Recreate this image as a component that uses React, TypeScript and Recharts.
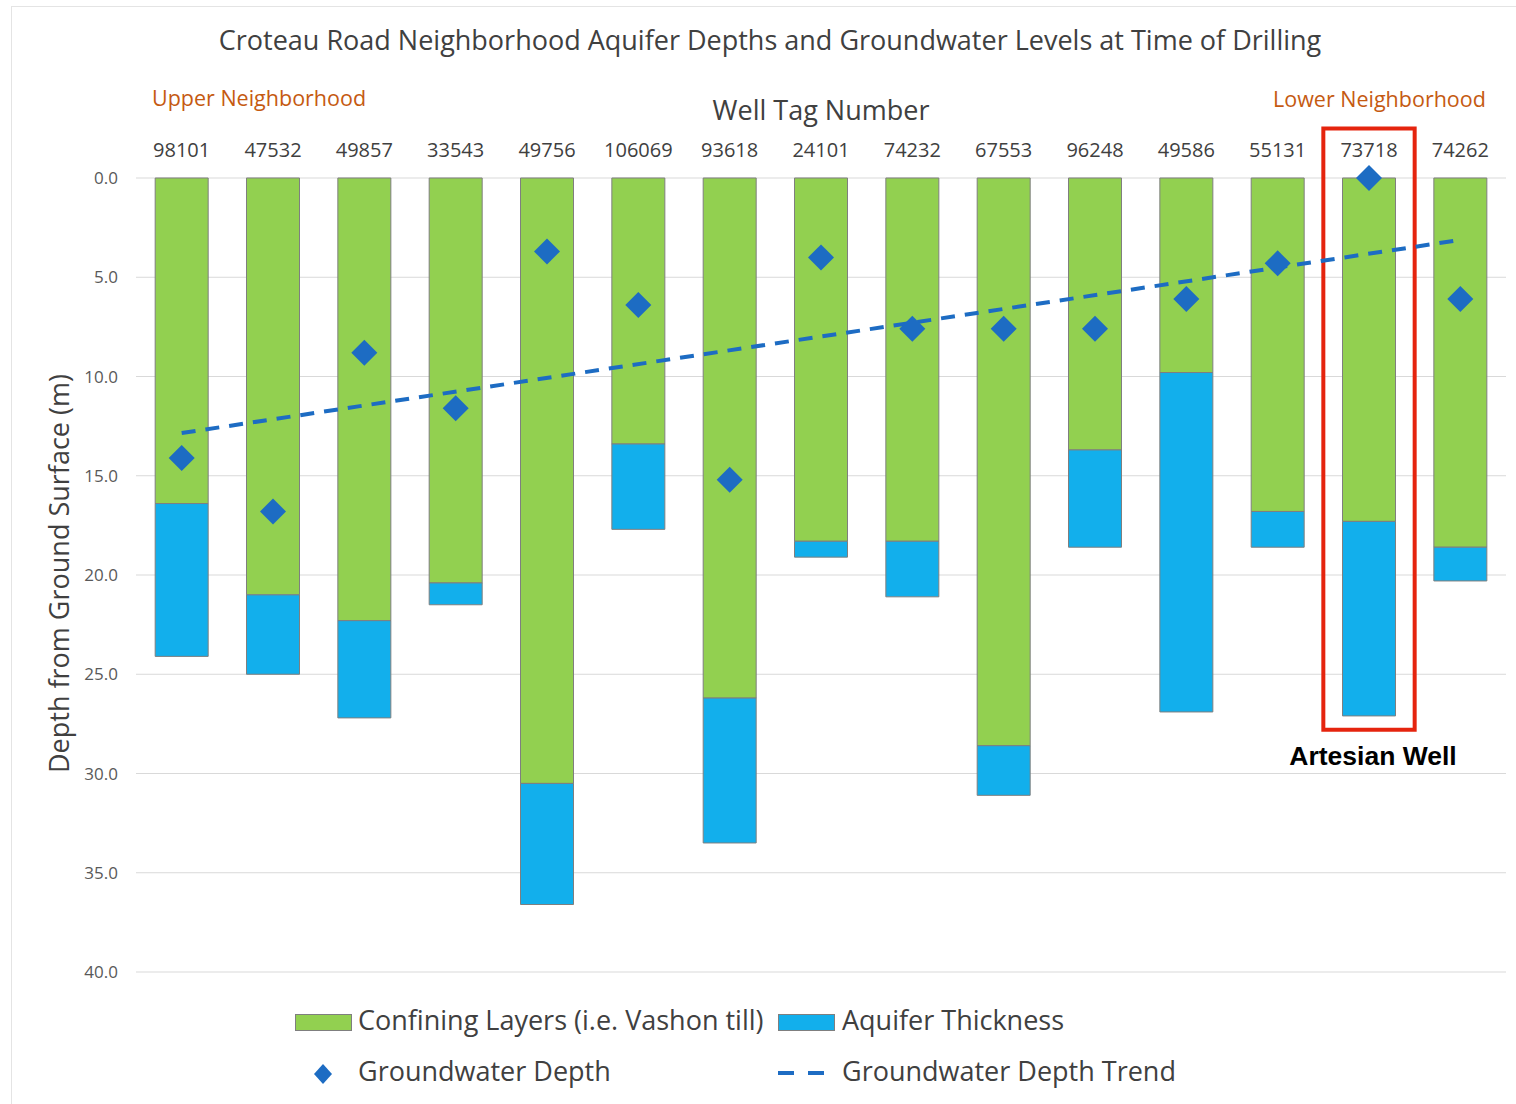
import {
  Bar,
  CartesianGrid,
  ComposedChart,
  Line,
  ReferenceArea,
  ReferenceLine,
  XAxis,
  YAxis,
} from 'recharts';

const wells = [
  '98101', '47532', '49857', '33543', '49756', '106069', '93618', '24101',
  '74232', '67553', '96248', '49586', '55131', '73718', '74262',
];
// metres below ground surface
const confiningLayers = [16.4, 21.0, 22.3, 20.4, 30.5, 13.4, 26.2, 18.3, 18.3, 28.6, 13.7, 9.8, 16.8, 17.3, 18.6];
const aquiferThickness = [7.7, 4.0, 4.9, 1.1, 6.1, 4.3, 7.3, 0.8, 2.8, 2.5, 4.9, 17.1, 1.8, 9.8, 1.7];
const groundwaterDepth = [14.1, 16.8, 8.8, 11.6, 3.7, 6.4, 15.2, 4.0, 7.6, 7.6, 7.6, 6.1, 4.3, 0.0, 6.1];
const trendStart = 12.85;
const trendEnd = 3.12;
const depthTicks = [0, 5, 10, 15, 20, 25, 30, 35, 40];

const chartData = wells.map((well, i) => ({
  well,
  confining: confiningLayers[i],
  aquifer: aquiferThickness[i],
  groundwater: groundwaterDepth[i],
}));

const GREEN = '#92D050';
const BLUE = '#12AFEC';
const DARK_BLUE = '#1D6CC3';
const TEXT = '#404040';
const ORANGE = '#C55A11';
const FONT = '"Open Sans", sans-serif';

function Diamond(props: { cx?: number; cy?: number; index?: number }) {
  const { cx, cy } = props;
  if (cx == null || cy == null) return null;
  const r = 13;
  return (
    <polygon
      key={`d-${props.index}`}
      points={`${cx},${cy - r} ${cx + r},${cy} ${cx},${cy + r} ${cx - r},${cy}`}
      fill={DARK_BLUE}
    />
  );
}

const abs = (left: number, top: number): React.CSSProperties => ({
  position: 'absolute',
  left,
  top,
  whiteSpace: 'nowrap',
  lineHeight: 1,
});

export default function App() {
  return (
    <div style={{ position: 'absolute', left: 0, top: 0, width: 1516, height: 1104, background: '#fff', fontFamily: FONT }}>
      <div style={{ position: 'absolute', left: 11, top: 6, width: 1510, height: 1100, borderLeft: '1px solid #e4e4e4', borderTop: '1px solid #e4e4e4' }} />
      <ComposedChart
        width={1516}
        height={1104}
        data={chartData}
        margin={{ top: 138, right: 10, left: 46, bottom: 132 }}
        barCategoryGap="21%"
      >
        <CartesianGrid vertical={false} stroke="#d9d9d9" />
        <XAxis
          dataKey="well"
          orientation="top"
          height={40}
          axisLine={false}
          tickLine={false}
          tickSize={0}
          tickMargin={21}
          interval={0}
          tick={{ fill: TEXT, fontSize: 20, fontFamily: FONT }}
        />
        <YAxis
          reversed
          type="number"
          domain={[0, 40]}
          ticks={depthTicks}
          width={90}
          axisLine={false}
          tickLine={false}
          tickSize={0}
          tickMargin={18}
          tickFormatter={(v: number) => v.toFixed(1)}
          tick={{ fill: '#595959', fontSize: 17, fontFamily: FONT }}
        />
        <Bar dataKey="confining" stackId="well" fill={GREEN} stroke="#7f7f7f" strokeWidth={1} isAnimationActive={false} />
        <Bar dataKey="aquifer" stackId="well" fill={BLUE} stroke="#7f7f7f" strokeWidth={1} isAnimationActive={false} />
        <ReferenceLine
          segment={[
            { x: wells[0], y: trendStart },
            { x: wells[wells.length - 1], y: trendEnd },
          ]}
          stroke={DARK_BLUE}
          strokeWidth={4}
          strokeDasharray="14 10"
          ifOverflow="visible"
        />
        <Line
          dataKey="groundwater"
          stroke="none"
          dot={(p: any) => <Diamond {...p} />}
          activeDot={false}
          isAnimationActive={false}
        />
        <ReferenceArea
          x1="73718"
          x2="73718"
          y1={-2.5}
          y2={27.8}
          fill="none"
          fillOpacity={0}
          stroke="#E5240E"
          strokeWidth={4}
          ifOverflow="visible"
        />
      </ComposedChart>

      <div style={{ ...abs(0, 26), width: 1540, textAlign: 'center', fontSize: 27, color: TEXT }}>
        Croteau Road Neighborhood Aquifer Depths and Groundwater Levels at Time of Drilling
      </div>
      <div style={{ ...abs(152, 87), fontSize: 21.5, color: ORANGE }}>Upper Neighborhood</div>
      <div style={{ ...abs(1273, 88), fontSize: 21.5, color: ORANGE }}>Lower Neighborhood</div>
      <div style={{ ...abs(621, 96), width: 400, textAlign: 'center', fontSize: 27, color: TEXT }}>Well Tag Number</div>
      <div
        style={{
          ...abs(58 - 250, 575 - 15),
          width: 500,
          textAlign: 'center',
          fontSize: 27,
          color: TEXT,
          transform: 'rotate(-90deg)',
        }}
      >
        Depth from Ground Surface (m)
      </div>
      <div style={{ ...abs(1273, 743), width: 200, textAlign: 'center', fontSize: 26.5, fontWeight: 700, color: '#000', fontFamily: '"Liberation Sans", Arial, sans-serif' }}>
        Artesian Well
      </div>

      {/* legend */}
      <div style={{ ...abs(295, 1014), width: 57, height: 17, background: GREEN, border: '1px solid #7f7f7f', boxSizing: 'border-box' }} />
      <div style={{ ...abs(358, 1006), fontSize: 27, color: TEXT }}>Confining Layers (i.e. Vashon till)</div>
      <div style={{ ...abs(778, 1014), width: 57, height: 17, background: BLUE, border: '1px solid #7f7f7f', boxSizing: 'border-box' }} />
      <div style={{ ...abs(842, 1006), fontSize: 27, color: TEXT }}>Aquifer Thickness</div>
      <svg style={{ position: 'absolute', left: 312, top: 1063 }} width={22} height={22}>
        <polygon points="11,1 20,11 11,21 2,11" fill={DARK_BLUE} />
      </svg>
      <div style={{ ...abs(358, 1057), fontSize: 27, color: TEXT }}>Groundwater Depth</div>
      <svg style={{ position: 'absolute', left: 776, top: 1068 }} width={52} height={10}>
        <line x1={2} y1={5} x2={50} y2={5} stroke={DARK_BLUE} strokeWidth={4} strokeDasharray="16 14" />
      </svg>
      <div style={{ ...abs(842, 1057), fontSize: 27, color: TEXT }}>Groundwater Depth Trend</div>
    </div>
  );
}
